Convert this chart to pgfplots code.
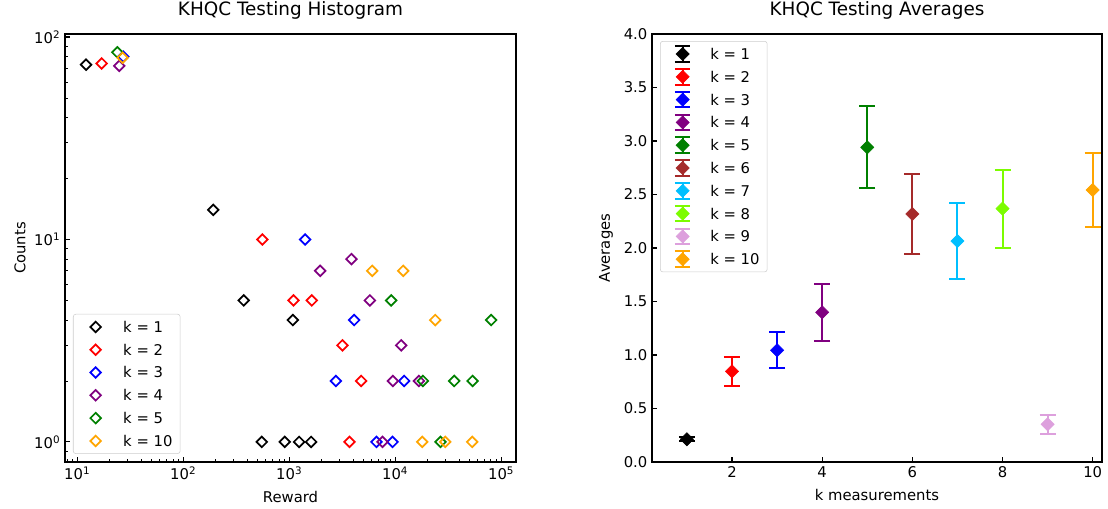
\documentclass[border=0pt]{standalone}
\usepackage{pgfplots}
\pgfplotsset{compat=1.18}
\usepackage{fontspec}
\setmainfont{DejaVu Sans}

\definecolor{mred}{HTML}{FF0000}
\definecolor{mblue}{HTML}{0000FF}
\definecolor{mpurple}{HTML}{800080}
\definecolor{mgreen}{HTML}{008000}
\definecolor{mbrown}{HTML}{A52A2A}
\definecolor{msky}{HTML}{00BFFF}
\definecolor{mlawn}{HTML}{7CFC00}
\definecolor{mplum}{HTML}{DDA0DD}
\definecolor{morange}{HTML}{FFA500}

\newcommand{\lbl}{\fontsize{11.1}{13}\selectfont}

\pgfplotsset{
  mplaxis/.style={
    scale only axis, height=321pt,
    axis line style={line width=0.83pt},
    tick align=inside, xtick pos=left, ytick pos=left,
    major tick length=3.65pt, minor tick length=2.1pt,
    major tick style={line width=0.83pt, black},
    minor tick style={line width=0.62pt, black},
    tick label style={font=\lbl},
    label style={font=\lbl},
    title style={font=\fontsize{13.8}{15}\selectfont, at={(axis description cs:0.5,1.037)}, anchor=center},
    /pgf/number format/assume math mode=true,
    legend cell align=left,
    legend style={draw=black!20, rounded corners=2pt, fill=white, font=\lbl,
      inner xsep=5.8pt, inner ysep=1pt, row sep=0pt, /tikz/column sep=9.7pt,
      nodes={inner sep=0pt, text height=12.6pt, text depth=4.5pt}, anchor=north west},
  },
  % open diamonds, histogram
  hist/.style={only marks, color=#1, mark=square, mark size=2.8pt,
    mark options={rotate=45, line width=1.3pt},
    legend image code/.code={\path[draw=none, fill=none] (0pt,-1pt) rectangle (22pt,1pt);
      \draw[##1] plot coordinates {(11pt,0pt)};}},
  % filled diamonds with error bars
  avg/.style={only marks, color=#1, mark=square*, mark size=3.5pt,
    mark options={rotate=45, fill=#1, draw=#1},
    legend image code/.code={\path[draw=none, fill=none] (0pt,-1pt) rectangle (22pt,1pt);
      \draw[#1, line width=1.5pt] (11pt,-5.8pt) -- (11pt,5.8pt)
        (5.2pt,-5.8pt) -- (16.8pt,-5.8pt) (5.2pt,5.8pt) -- (16.8pt,5.8pt);
      \draw[##1] plot coordinates {(11pt,0pt)};},
    error bars/.cd, y dir=both, y explicit,
    error bar style={line width=1.5pt, color=#1},
    error mark options={rotate=90, line width=1.5pt, mark size=6pt, color=#1}},
}

\begin{document}
\begin{tikzpicture}
\useasboundingbox (0,0) rectangle (831pt,381.75pt);

% histogram
\begin{axis}[mplaxis, at={(48.75pt,35.25pt)}, anchor=south west, width=338.25pt,
  xmode=log, ymode=log,
  xmin=7.66, xmax=1.38e5, ymin=0.796, ymax=103.5,
  xtick={10,100,1000,10000,100000},
  xticklabels={10\textsuperscript{1},10\textsuperscript{2},10\textsuperscript{3},10\textsuperscript{4},10\textsuperscript{5}},
  minor xtick={8,9,20,30,40,50,60,70,80,90,200,300,400,500,600,700,800,900,
    2000,3000,4000,5000,6000,7000,8000,9000,20000,30000,40000,50000,60000,70000,80000,90000},
  ytick={1,10,100},
  yticklabels={10\textsuperscript{0},10\textsuperscript{1},10\textsuperscript{2}},
  minor ytick={0.8,0.9,2,3,4,5,6,7,8,9,20,30,40,50,60,70,80,90},
  title={KHQC Testing Histogram}, xlabel={Reward}, ylabel={Counts},
  xlabel style={at={(axis description cs:0.5,-0.082)}, anchor=center},
  ylabel style={at={(axis description cs:-0.1,0.5)}, anchor=center},
  legend style={at={(axis description cs:0.0177,0.346)}},
]
\addplot[hist=black] coordinates {(12.1,73) (192,14) (372,5) (1081,4) (551,1) (908,1) (1240,1) (1610,1)};
\addlegendentry{k = 1}
\addplot[hist=mred] coordinates {(17,74) (558,10) (1097,5) (1633,5) (3178,3) (4777,2) (3706,1)};
\addlegendentry{k = 2}
\addplot[hist=mblue] coordinates {(27.2,80) (1413,10) (4104,4) (2754,2) (12160,2) (6656,1) (9438,1)};
\addlegendentry{k = 3}
\addplot[hist=mpurple] coordinates {(24.9,72) (3866,8) (1959,7) (5768,5) (11400,3) (9508,2) (16750,2) (7585,1)};
\addlegendentry{k = 4}
\addplot[hist=mgreen] coordinates {(23.9,84) (9160,5) (80500,4) (18280,2) (36060,2) (53700,2) (26800,1)};
\addlegendentry{k = 5}
\addplot[hist=morange] coordinates {(26.8,79) (6067,7) (11900,7) (23870,4) (17990,1) (29650,1) (53300,1)};
\addlegendentry{k = 10}
\end{axis}

% averages
\begin{axis}[mplaxis, at={(489pt,35.25pt)}, anchor=south west, width=337.5pt,
  xmin=0.226, xmax=10.206, ymin=0, ymax=4000,
  xtick={2,4,6,8,10},
  ytick={0,500,1000,1500,2000,2500,3000,3500,4000},
  yticklabels={0.0,0.5,1.0,1.5,2.0,2.5,3.0,3.5,4.0},
  scaled y ticks=false,
  title={KHQC Testing Averages}, xlabel={k measurements}, ylabel={Averages},
  xlabel style={at={(axis description cs:0.5,-0.077)}, anchor=center},
  ylabel style={at={(axis description cs:-0.102,0.5)}, anchor=center},
  legend style={at={(axis description cs:0.0178,0.9836)}},
]
\addplot[avg=black] coordinates {(1,212) +- (0,18)};
\addlegendentry{k = 1}
\addplot[avg=mred] coordinates {(2,847) +- (0,137)};
\addlegendentry{k = 2}
\addplot[avg=mblue] coordinates {(3,1044) +- (0,168)};
\addlegendentry{k = 3}
\addplot[avg=mpurple] coordinates {(4,1399) +- (0,266)};
\addlegendentry{k = 4}
\addplot[avg=mgreen] coordinates {(5,2941) +- (0,383)};
\addlegendentry{k = 5}
\addplot[avg=mbrown] coordinates {(6,2318) +- (0,377)};
\addlegendentry{k = 6}
\addplot[avg=msky] coordinates {(7,2065) +- (0,354)};
\addlegendentry{k = 7}
\addplot[avg=mlawn] coordinates {(8,2368) +- (0,365)};
\addlegendentry{k = 8}
\addplot[avg=mplum] coordinates {(9,352) +- (0,86)};
\addlegendentry{k = 9}
\addplot[avg=morange] coordinates {(10,2542) +- (0,344)};
\addlegendentry{k = 10}
\node[font=\lbl, anchor=south west, inner sep=0pt] at (rel axis cs:0,1) [yshift=4.5pt] {1e3};
\end{axis}
\end{tikzpicture}
\end{document}
